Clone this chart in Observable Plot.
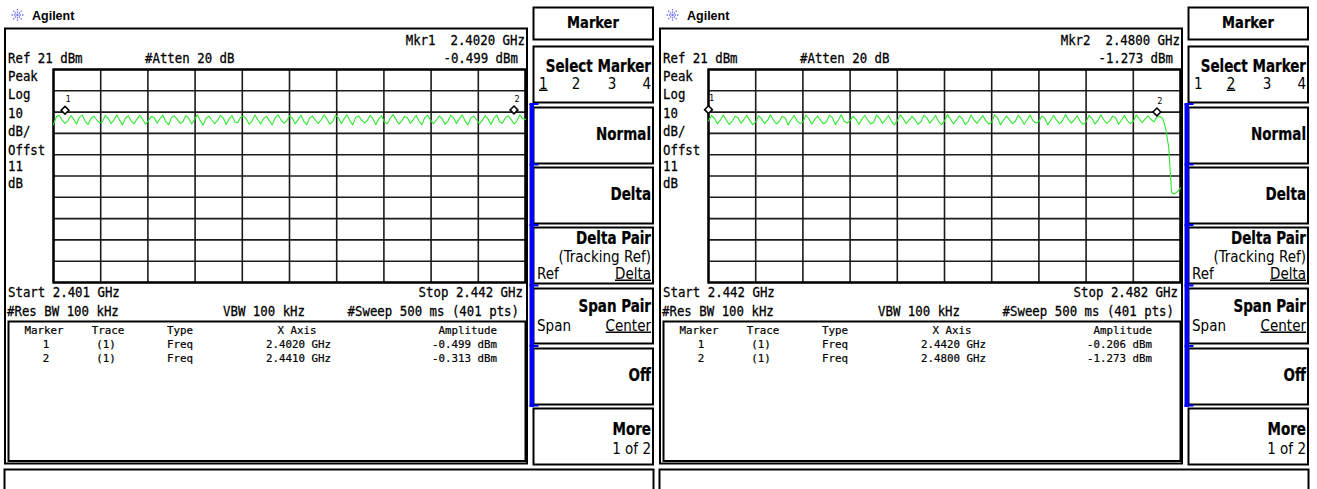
<!DOCTYPE html>
<html><head><meta charset="utf-8">
<script src="https://cdn.jsdelivr.net/npm/d3@7"></script>
<script src="https://cdn.jsdelivr.net/npm/@observablehq/plot@0.6"></script>
<style>
html,body{margin:0;padding:0;background:#fff;}
#root{position:relative;width:1317px;height:489px;overflow:hidden;background:#fff;}
</style></head><body><div id="root"></div>
<script>
// ---------- data ----------
const refLevelDbm = 21;
const gridLevelsDbm = [21, 11, 1, -9, -19, -29, -39, -49, -59, -69, -79];

const leftStartGHz = 2.401, leftStopGHz = 2.442;
const rightStartGHz = 2.442, rightStopGHz = 2.482;

const leftGridFreqs = [2.401, 2.4051, 2.4092, 2.4133, 2.4174, 2.4215, 2.4256, 2.4297, 2.4338, 2.4379, 2.442];
const rightGridFreqs = [2.442, 2.446, 2.450, 2.454, 2.458, 2.462, 2.466, 2.470, 2.474, 2.478, 2.482];

const leftTraceDbm = [
-4.9,-1.2,-0.5,-2.8, -4.3,-3.1,-0.7,-2.2, -4.6,-1.5,-0.4,-3.3, -4.8,-2.0,-0.9,-2.6,
-4.1,-3.6,-0.6,-1.9, -4.4,-2.7,-0.3,-2.9, -5.0,-1.8,-0.8,-3.2, -4.5,-2.3,-0.5,-2.5,
-4.7,-3.0,-1.0,-1.7, -4.2,-2.1,-0.4,-3.5, -4.9,-1.6,-0.7,-2.4, -4.3,-3.4,-0.6,-2.0,
-4.6,-2.5,-0.2,-3.1, -5.1,-1.9,-0.9,-2.7, -4.4,-2.9,-0.5,-1.8, -4.8,-2.2,-0.6,-3.6,
-4.0,-1.4,-0.8,-2.3, -4.7,-3.2,-0.4,-2.6, -4.5,-2.0,-1.0,-3.0, -5.0,-1.7,-0.3,-2.5,
-4.2,-3.3,-0.7,-1.9, -4.6,-2.4,-0.5,-3.4, -4.9,-1.8,-0.9,-2.8, -4.3,-2.6,-0.4,-2.1,
-4.7,-3.5,-0.6,-1.6, -4.4,-2.1,-0.3,-3.2, -5.0,-1.5,-0.8,-2.7, -4.1,-3.0,-0.5,-2.2,
-4.8,-2.3,-0.7,-3.6, -4.5,-1.9,-0.2,-2.4, -4.6,-3.1,-1.0,-1.8, -4.2,-2.5,-0.6,-3.3,
-4.9,-1.6,-0.4,-2.9, -4.4,-2.8,-0.8,-2.0, -4.7,-3.4,-0.5,-1.7, -4.3,-2.2,-0.3,-3.1,
-5.0,-1.8,-0.9,-2.6, -4.5,-2.9,-0.6,-2.3, -4.8,-2.0,-0.4,-3.5, -4.2,-1.7,-0.7,-2.5,
-4.6,-3.2,-0.3,-2.1, -2.4
];
const rightTraceDbm = [
-3.2,-0.6,-1.9,-4.5, -2.8,-0.4,-2.6,-4.8, -3.4,-0.9,-1.7,-4.2, -2.5,-0.5,-3.0,-4.9,
-3.6,-0.7,-2.2,-4.4, -2.9,-0.3,-2.7,-4.6, -3.3,-1.0,-1.8,-5.0, -2.6,-0.6,-3.1,-4.3,
-3.7,-0.4,-2.0,-4.7, -2.4,-0.8,-2.9,-4.5, -3.5,-0.5,-1.6,-4.9, -2.7,-0.2,-3.3,-4.1,
-3.0,-0.9,-2.4,-4.8, -2.3,-0.6,-2.8,-4.6, -3.8,-0.4,-1.9,-4.3, -2.6,-0.7,-3.2,-5.0,
-3.1,-0.3,-2.1,-4.4, -2.8,-1.0,-2.6,-4.7, -3.6,-0.5,-1.7,-4.2, -2.5,-0.6,-3.4,-4.9,
-3.2,-0.2,-2.3,-4.5, -2.9,-0.8,-2.0,-4.8, -3.5,-0.4,-2.7,-4.3, -2.4,-0.7,-3.0,-4.6,
-3.7,-0.3,-1.8,-5.0, -2.7,-0.9,-2.5,-4.4, -3.3,-0.5,-2.2,-4.7, -2.6,-0.4,-3.1,-4.1,
-3.4,-0.8,-1.9,-4.9, -2.8,-0.6,-2.8,-4.5, -3.0,-0.2,-2.4,-4.2, -2.5,-0.7,-3.3,-4.8,
-3.6,-0.5,-2.0,-4.6, -2.9,-0.3,-2.6,-4.3, -3.1,-0.9,-1.7,-4.7, -2.7,-0.6,-3.0,-4.4,
-3.4,-0.4,-2.1,-4.0, -2.2,-0.8,-2.5,-3.6,
-1.27,-1.0,-2.1,-6.8,-15.5,-36.9,-37.4,-36.3,-34.6
];

const markerNumbers = [1, 2];
const leftMarkerFreqsGHz = [2.4020, 2.4410];
const leftMarkerAmpsDbm = [-0.499, -0.313];
const rightMarkerFreqsGHz = [2.4420, 2.4800];
const rightMarkerAmpsDbm = [-0.206, -1.273];

const tableHeaders = ["Marker", "Trace", "Type", "X Axis", "Amplitude"];
const softkeyTitle = "Marker";

// ---------- drawing ----------
const W = 1317, H = 489;
const root = d3.select("#root");
const svg = root.append("svg").attr("width", W).attr("height", H)
  .style("position", "absolute").style("left", "0px").style("top", "0px");

const MONO = "DejaVu Sans Mono, Liberation Mono, monospace";
const COND = "DejaVu Sans Condensed, DejaVu Sans, sans-serif";

function rect(x, y, w, h, {stroke = "#000", sw = 2, fill = "none"} = {}) {
  svg.append("rect").attr("x", x).attr("y", y).attr("width", w).attr("height", h)
    .attr("fill", fill).attr("stroke", stroke).attr("stroke-width", sw);
}
function text(x, y, s, {size = 12.4, anchor = "start", weight = "normal", sy = 1.1, family = MONO, underline = false, stretch = null, bold = 0.25} = {}) {
  const t = svg.append("text")
    .attr("transform", `translate(${x},${y}) scale(1,${sy})`)
    .attr("text-anchor", anchor).attr("font-family", family)
    .attr("font-size", size).attr("font-weight", weight).attr("fill", "#000")
    .style("white-space", "pre")
    .text(s);
  if (bold) t.attr("stroke", "#000").attr("stroke-width", bold);
  if (stretch) t.style("font-stretch", stretch);
  if (underline) t.attr("text-decoration", "underline");
  return t;
}

function tracePlot(start, stop, gridFreqs, trace, mFreqs, mAmps) {
  const n = trace.length;
  const pts = trace.map((a, i) => ({f: start + (stop - start) * i / (n - 1), a}));
  const markers = mFreqs.map((f, i) => ({f, a: mAmps[i], label: String(markerNumbers[i])}));
  return Plot.plot({
    width: 472 + 24, height: 213 + 24,
    marginTop: 12, marginBottom: 12, marginLeft: 12, marginRight: 12,
    x: {domain: [start, stop], axis: null},
    y: {domain: [refLevelDbm - 100, refLevelDbm], axis: null},
    style: {background: "transparent", overflow: "visible"},
    marks: [
      Plot.ruleX(gridFreqs, {stroke: "#1a1a1a", strokeWidth: 1.6}),
      Plot.ruleY(gridLevelsDbm, {stroke: "#1a1a1a", strokeWidth: 1.6}),
      Plot.frame({stroke: "#000", strokeWidth: 2.4}),
      Plot.line(pts, {x: "f", y: "a", stroke: "#2ee82e", strokeWidth: 1.1}),
      Plot.dot(markers, {x: "f", y: "a", symbol: "diamond2", r: 3.5, stroke: "#000", strokeWidth: 1.6, fill: "#fff", dy: -5}),
      Plot.text(markers, {x: "f", y: "a", text: "label", dy: -16, dx: 3, fontSize: 8.5, fontFamily: MONO, fill: "#000"})
    ]
  });
}

function drawPanel(dx, cfg) {
  // Agilent logo
  const cx = dx + 17.5, cy = 15;
  for (let k = 0; k < 8; k++) {
    const ang = k * Math.PI / 4;
    svg.append("line")
      .attr("x1", cx + 2 * Math.cos(ang)).attr("y1", cy + 2 * Math.sin(ang))
      .attr("x2", cx + 7 * Math.cos(ang)).attr("y2", cy + 7 * Math.sin(ang))
      .attr("stroke", "#7474ec").attr("stroke-width", 1.3).attr("stroke-dasharray", "1.5,1");
  }
  svg.append("circle").attr("cx", cx).attr("cy", cy).attr("r", 1.2).attr("fill", "#7474ec");
  text(dx + 32, 19.5, "Agilent", {size: 12.5, weight: "bold", family: "Liberation Sans, Arial, sans-serif", sy: 1, bold: 0});

  // main frame and table box
  rect(dx + 5, 28.5, 522, 435);
  rect(dx + 8.5, 321.5, 517, 139.5);

  // header texts
  const act = cfg.active - 1;
  text(dx + 8, 63, `Ref ${refLevelDbm} dBm`);
  text(dx + 145, 63, "#Atten 20 dB");
  text(dx + 525, 45, `Mkr${cfg.active}  ${cfg.mFreqs[act].toFixed(4)} GHz`, {anchor: "end"});
  text(dx + 518, 63, `${cfg.mAmps[act].toFixed(3)} dBm`, {anchor: "end"});
  const side = [["Peak", 80.7], ["Log", 99], ["10", 117.5], ["dB/", 136], ["Offst", 154.5], ["11", 171], ["dB", 188]];
  side.forEach(([s, y]) => text(dx + 8, y, s));
  text(dx + 8, 297, `Start ${cfg.start.toFixed(3)} GHz`);
  text(dx + 523, 297, `Stop ${cfg.stop.toFixed(3)} GHz`, {anchor: "end"});
  text(dx + 7, 315.5, "#Res BW 100 kHz");
  text(dx + 223, 315.5, "VBW 100 kHz");
  text(dx + 519, 315.5, "#Sweep 500 ms (401 pts)", {anchor: "end"});

  // marker table
  const ts = {size: 10.8, sy: 1.0, bold: 0.2};
  text(dx + 44, 334, tableHeaders[0], {...ts, anchor: "middle"});
  text(dx + 108, 334, tableHeaders[1], {...ts, anchor: "middle"});
  text(dx + 167, 334, tableHeaders[2], {...ts});
  text(dx + 297, 334, tableHeaders[3], {...ts, anchor: "middle"});
  text(dx + 497, 334, tableHeaders[4], {...ts, anchor: "end"});
  cfg.mFreqs.forEach((f, i) => {
    const y = 348 + i * 13.7;
    text(dx + 46, y, String(markerNumbers[i]), {...ts, anchor: "middle"});
    text(dx + 106, y, "(1)", {...ts, anchor: "middle"});
    text(dx + 167, y, "Freq", {...ts});
    text(dx + 331, y, `${f.toFixed(4)} GHz`, {...ts, anchor: "end"});
    text(dx + 497, y, `${cfg.mAmps[i].toFixed(3)} dBm`, {...ts, anchor: "end"});
  });

  // softkeys
  const boxes = [[7, 39], [46, 102], [107, 163], [167, 223], [227, 283], [288, 343], [348, 404], [408, 464]];
  boxes.forEach(([y0, y1]) => rect(dx + 533.5, y0 + 0.5, 119.5, y1 - y0));
  rect(dx + 4.5, 469.5, 649, 40);
  // blue active bar
  rect(dx + 529.5, 104, 4.5, 303, {fill: "#0000ff", stroke: "none", sw: 0});
  [104, 164.5, 225, 285.5, 346, 405.5].forEach(y => rect(dx + 529.5, y - 1, 9, 2, {fill: "#0000ff", stroke: "none", sw: 0}));

  const B = {family: COND, weight: "bold", size: 15, sy: 1.12, anchor: "end", stretch: "condensed", bold: 0.2};
  const R = {family: COND, size: 15, sy: 1.0, stretch: "condensed", bold: 0};
  text(dx + 593, 27.5, softkeyTitle, {...B, anchor: "middle", size: 14.5, sy: 1.05});
  text(dx + 651, 72, "Select Marker", B);
  const selX = [[539, "start"], [576, "middle"], [612, "middle"], [651, "end"]];
  selX.forEach(([x, a], i) => text(dx + x, 88.5, String(i + 1), {...R, anchor: a, underline: i + 1 === cfg.active}));
  text(dx + 651, 140, "Normal", B);
  text(dx + 651, 200, "Delta", B);
  text(dx + 651, 244, "Delta Pair", B);
  text(dx + 651, 261.5, "(Tracking Ref)", {...R, anchor: "end"});
  text(dx + 537, 278.5, "Ref", {...R});
  text(dx + 651, 278.5, "Delta", {...R, anchor: "end", underline: true});
  text(dx + 651, 312, "Span Pair", B);
  text(dx + 537, 330.5, "Span", {...R});
  text(dx + 651, 330.5, "Center", {...R, anchor: "end", underline: true});
  text(dx + 651, 381, "Off", B);
  text(dx + 651, 435, "More", B);
  text(dx + 651, 453.5, "1 of 2", {...R, anchor: "end"});

  // trace plot
  const p = tracePlot(cfg.start, cfg.stop, cfg.grid, cfg.trace, cfg.mFreqs, cfg.mAmps);
  p.style.position = "absolute";
  p.style.left = (dx + 53 - 12) + "px";
  p.style.top = (69 - 12) + "px";
  p.style.maxWidth = "none";
  root.node().appendChild(p);
}

drawPanel(0, {start: leftStartGHz, stop: leftStopGHz, grid: leftGridFreqs, trace: leftTraceDbm,
  mFreqs: leftMarkerFreqsGHz, mAmps: leftMarkerAmpsDbm, active: 1});
drawPanel(655, {start: rightStartGHz, stop: rightStopGHz, grid: rightGridFreqs, trace: rightTraceDbm,
  mFreqs: rightMarkerFreqsGHz, mAmps: rightMarkerAmpsDbm, active: 2});
</script></body></html>
